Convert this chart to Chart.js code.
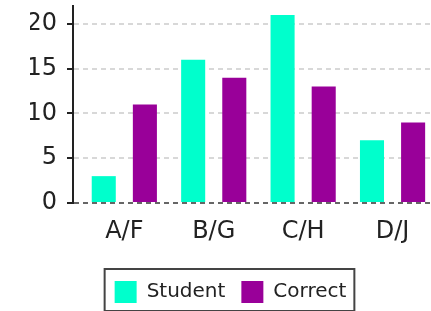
<!DOCTYPE html>
<html>
<head>
<meta charset="utf-8">
<script src="https://cdn.jsdelivr.net/npm/chart.js@4"></script>
<style>
  html, body { margin: 0; padding: 0; background: #fff; }
  #wrap { width: 431px; height: 311px; }
</style>
</head>
<body>
<div id="wrap"><canvas id="chart" width="431" height="311"></canvas></div>
<script>
// chart data
const categories = ['A/F', 'B/G', 'C/H', 'D/J'];
const studentValues = [3, 16, 21, 7];
const correctValues = [11, 14, 13, 9];
const yTicks = [0, 5, 10, 15, 20];

const FONT = '"DejaVu Sans", Verdana, sans-serif';

// draws a frame round the legend
const legendFrame = {
  id: 'legendFrame',
  afterDraw(chart) {
    const boxes = chart.legend?.legendHitBoxes;
    if (!boxes || !boxes.length) return;
    const left = Math.min(...boxes.map(b => b.left));
    const right = Math.max(...boxes.map(b => b.left + b.width));
    const top = Math.min(...boxes.map(b => b.top));
    const ctx = chart.ctx;
    ctx.save();
    ctx.strokeStyle = '#444';
    ctx.lineWidth = 2;
    ctx.strokeRect(left - 10, top - 12, right - left + 18, 42);
    ctx.restore();
  }
};

// categories sit on a numeric x axis so the groups can be nudged right of the y axis
const toPoints = values => values.map((v, i) => ({ x: i, y: v }));

const ctx = document.getElementById('chart').getContext('2d');
new Chart(ctx, {
  type: 'bar',
  data: {
    labels: categories,
    datasets: [
      { label: 'Student', data: toPoints(studentValues), backgroundColor: '#00ffcc' },
      { label: 'Correct', data: toPoints(correctValues), backgroundColor: '#990099' }
    ]
  },
  options: {
    responsive: false,
    animation: false,
    layout: { padding: { top: 6, right: 0, left: 30, bottom: -2 } },
    datasets: {
      bar: { categoryPercentage: 0.92, barPercentage: 0.585 }
    },
    plugins: {
      legend: {
        position: 'bottom',
        labels: {
          boxWidth: 22,
          boxHeight: 22,
          padding: 16,
          color: '#222',
          font: { family: FONT, size: 20 }
        }
      },
      tooltip: { enabled: false }
    },
    scales: {
      x: {
        type: 'linear',
        offset: false,
        min: -0.574,
        max: 3.43,
        afterBuildTicks: scale => {
          scale.ticks = categories.map((c, i) => ({ value: i }));
        },
        afterFit: scale => {
          scale.height = 62;
          scale.paddingLeft = 0;
          scale.paddingRight = 0;
        },
        grid: { display: false },
        border: { display: false },
        ticks: {
          color: '#222',
          padding: 6,
          font: { family: FONT, size: 24 },
          callback: v => categories[v]
        }
      },
      y: {
        min: 0,
        max: 22,
        afterBuildTicks: scale => {
          scale.ticks = yTicks.map(v => ({ value: v }));
        },
        afterFit: scale => {
          scale.width = 43;
          scale.paddingTop = 0;
          scale.paddingBottom = 0;
        },
        border: { display: true, color: '#222', width: 2, dash: [5, 4] },
        grid: {
          color: c => (c.tick && c.tick.value === 0 ? '#666' : '#d8d8d8'),
          lineWidth: 2,
          tickColor: '#222',
          tickLength: 6,
          tickBorderDash: []
        },
        ticks: { color: '#222', padding: 10, font: { family: FONT, size: 24 } }
      }
    }
  },
  plugins: [legendFrame]
});
</script>
</body>
</html>
